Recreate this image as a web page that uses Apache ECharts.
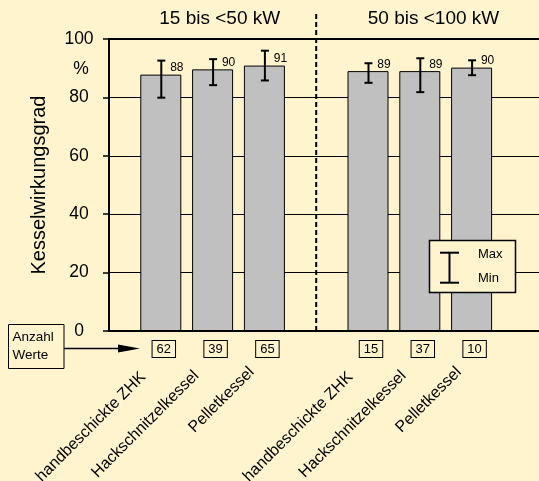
<!DOCTYPE html>
<html>
<head>
<meta charset="utf-8">
<script src="https://cdn.jsdelivr.net/npm/echarts@6/dist/echarts.min.js"></script>
<style>
html,body{margin:0;padding:0;background:#FFF4CE;}
#chart{width:539px;height:481px;}
</style>
</head>
<body>
<div id="chart"></div>
<script>
// ---- data ----
const groupTitles = ['15 bis <50 kW', '50 bis <100 kW'];
const boilerTypes = ['handbeschickte ZHK', 'Hackschnitzelkessel', 'Pelletkessel'];
const eff15to50 = [87.8, 89.6, 90.9];
const eff50to100 = [89.0, 89.0, 90.2];
const max15to50 = [92.6, 93.1, 96.0];
const min15to50 = [79.9, 84.2, 85.8];
const max50to100 = [91.7, 93.4, 92.7];
const min50to100 = [85.0, 81.8, 87.6];
const count15to50 = [62, 39, 65];
const count50to100 = [15, 37, 10];
const yMin = 0, yMax = 100, yInterval = 20;
const yAxisName = 'Kesselwirkungsgrad';
const unitLabel = '%';
const countLabel = ['Anzahl', 'Werte'];
const legendLabels = ['Max', 'Min'];

// ---- build category layout: spacer, group1, spacer, group2, spacers ----
const categories = [''].concat(boilerTypes, [''], boilerTypes, ['', '']);
const idx1 = [1, 2, 3], idx2 = [5, 6, 7];
const barData = categories.map(() => null);
idx1.forEach((c, i) => barData[c] = eff15to50[i]);
idx2.forEach((c, i) => barData[c] = eff50to100[i]);
const errData = idx1.map((c, i) => [c, min15to50[i], max15to50[i]])
  .concat(idx2.map((c, i) => [c, min50to100[i], max50to100[i]]));
const cntData = idx1.map((c, i) => [c, count15to50[i]])
  .concat(idx2.map((c, i) => [c, count50to100[i]]));
const dividerIndex = 4;

const BG = '#FFF4CE';
const FONT = 'Liberation Sans, Arial, sans-serif';
const labelKey = {'handbeschickte ZHK': 'z', 'Hackschnitzelkessel': 'h', 'Pelletkessel': 'p'};

const chart = echarts.init(document.getElementById('chart'));
chart.setOption({
  backgroundColor: BG,
  animation: false,
  textStyle: {fontFamily: FONT},
  grid: {left: 109, width: 466.2, top: 39, height: 292, containLabel: false, outerBoundsMode: 'none',
    show: true, borderColor: '#000', borderWidth: 2, backgroundColor: 'transparent'},
  xAxis: {
    type: 'category',
    data: categories,
    boundaryGap: false,
    axisLine: {lineStyle: {color: '#000', width: 2}},
    axisTick: {show: false},
    splitLine: {show: false},
    axisLabel: {
      interval: 0, rotate: 45, margin: 26, color: '#000', fontSize: 16, fontFamily: FONT,
      formatter: v => v ? '{' + labelKey[v] + '|' + v + '}' : '',
      rich: {
        z: {fontSize: 16, fontFamily: FONT, color: '#000', padding: [0, 25, 0, 0]},
        h: {fontSize: 16, fontFamily: FONT, color: '#000', padding: [0, 23, 0, 0]},
        p: {fontSize: 16, fontFamily: FONT, color: '#000', padding: [0, 18, 0, 0]}
      }
    }
  },
  yAxis: {
    type: 'value', min: yMin, max: yMax, interval: yInterval,
    name: yAxisName, nameLocation: 'middle', nameGap: 60,
    nameTextStyle: {fontSize: 20, color: '#000', fontFamily: FONT},
    axisLine: {show: true, lineStyle: {color: '#000', width: 2}},
    axisTick: {show: true, length: 6, lineStyle: {color: '#000', width: 1.5}},
    axisLabel: {color: '#000', fontSize: 17.5, fontFamily: FONT, margin: 30, align: 'center'},
    splitLine: {show: true, lineStyle: {color: '#000', width: 1}}
  },
  series: [
    {
      type: 'bar', data: barData, barWidth: 41,
      itemStyle: {color: '#C0C0C0', borderColor: '#000', borderWidth: 1},
      label: {show: true, position: 'top', offset: [16, 4.5], fontSize: 12, color: '#000', fontFamily: FONT,
        formatter: p => Math.round(p.value)},
      z: 2
    },
    {
      type: 'custom', data: errData, clip: false, z: 5,
      renderItem: (params, api) => {
        const x = api.value(0);
        const lo = api.coord([x, api.value(1)]);
        const hi = api.coord([x, api.value(2)]);
        const cx = lo[0] + 0.5, w = 4;
        const st = {stroke: '#000', lineWidth: 2};
        return {type: 'group', children: [
          {type: 'line', shape: {x1: cx, y1: lo[1], x2: cx, y2: hi[1]}, style: st},
          {type: 'line', shape: {x1: cx - w, y1: lo[1], x2: cx + w, y2: lo[1]}, style: st},
          {type: 'line', shape: {x1: cx - w, y1: hi[1], x2: cx + w, y2: hi[1]}, style: st}
        ]};
      }
    },
    {
      type: 'custom', data: cntData, clip: false, z: 5,
      renderItem: (params, api) => {
        const p = api.coord([api.value(0), 0]);
        return {type: 'text', x: p[0] + 3, y: p[1] + 18, style: {
          text: String(api.value(1)), fontSize: 13, fontFamily: FONT, fill: '#000',
          align: 'center', verticalAlign: 'middle',
          borderColor: '#000', borderWidth: 1, padding: [2, 4, 1, 4], backgroundColor: BG
        }};
      }
    },
    {
      type: 'custom', data: [[dividerIndex]], clip: false, z: 4,
      renderItem: (params, api) => {
        const b = api.coord([api.value(0), yMin]);
        const t = api.coord([api.value(0), yMax]);
        return {type: 'line', shape: {x1: b[0], y1: b[1], x2: b[0], y2: t[1] - 25},
          style: {stroke: '#000', lineWidth: 2, lineDash: [5, 3]}};
      }
    }
  ],
  graphic: [
    {type: 'text', x: 219.7, y: 19, z: 10, style: {text: groupTitles[0], fontSize: 19, fontFamily: FONT, fill: '#000', align: 'center', verticalAlign: 'middle'}},
    {type: 'text', x: 433.5, y: 19, z: 10, style: {text: groupTitles[1], fontSize: 19, fontFamily: FONT, fill: '#000', align: 'center', verticalAlign: 'middle'}},
    {type: 'text', x: 81, y: 69, z: 10, style: {text: unitLabel, fontSize: 17.5, fontFamily: FONT, fill: '#000', align: 'center', verticalAlign: 'middle'}},
    // Anzahl Werte box + arrow
    {type: 'rect', z: 10, shape: {x: 8.5, y: 324.5, width: 55.5, height: 44}, style: {fill: BG, stroke: '#000', lineWidth: 1}},
    {type: 'text', x: 12.5, y: 337.5, z: 11, style: {text: countLabel[0], fontSize: 13.5, fontFamily: FONT, fill: '#000', align: 'left', verticalAlign: 'middle'}},
    {type: 'text', x: 12.5, y: 355.5, z: 11, style: {text: countLabel[1], fontSize: 13.5, fontFamily: FONT, fill: '#000', align: 'left', verticalAlign: 'middle'}},
    {type: 'line', z: 10, shape: {x1: 64, y1: 348.5, x2: 122, y2: 348.5}, style: {stroke: '#000', lineWidth: 1.5}},
    {type: 'polygon', z: 10, shape: {points: [[118, 344.5], [140, 348.5], [118, 352.5]]}, style: {fill: '#000'}},
    // Max/Min legend
    {type: 'rect', z: 10, shape: {x: 429.5, y: 240.5, width: 86, height: 52}, style: {fill: BG, stroke: '#000', lineWidth: 1.5}},
    {type: 'line', z: 11, shape: {x1: 449.5, y1: 252.7, x2: 449.5, y2: 282.7}, style: {stroke: '#000', lineWidth: 2}},
    {type: 'line', z: 11, shape: {x1: 440, y1: 252.7, x2: 459, y2: 252.7}, style: {stroke: '#000', lineWidth: 2}},
    {type: 'line', z: 11, shape: {x1: 440, y1: 282.7, x2: 459, y2: 282.7}, style: {stroke: '#000', lineWidth: 2}},
    {type: 'text', x: 478, y: 254.5, z: 11, style: {text: legendLabels[0], fontSize: 13, fontFamily: FONT, fill: '#000', align: 'left', verticalAlign: 'middle'}},
    {type: 'text', x: 478, y: 278.5, z: 11, style: {text: legendLabels[1], fontSize: 13, fontFamily: FONT, fill: '#000', align: 'left', verticalAlign: 'middle'}}
  ]
});
</script>
</body>
</html>
